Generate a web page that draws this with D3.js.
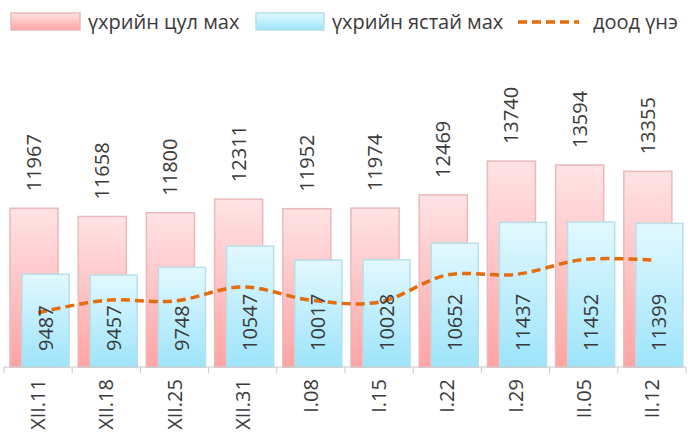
<!DOCTYPE html>
<html>
<head>
<meta charset="utf-8">
<script src="https://cdn.jsdelivr.net/npm/d3@7"></script>
<style>
  body { margin: 0; background: #fff; }
  svg { display: block; font-family: 'Open Sans', sans-serif; }
</style>
</head>
<body>
<svg id="chart" width="688" height="436"></svg>
<script>
/* data */
const dates = ['XII.11', 'XII.18', 'XII.25', 'XII.31', 'I.08', 'I.15', 'I.22', 'I.29', 'II.05', 'II.12']
const boneless = [11967, 11658, 11800, 12311, 11952, 11974, 12469, 13740, 13594, 13355]
const boneIn = [9487, 9457, 9748, 10547, 10017, 10028, 10652, 11437, 11452, 11399]
const minPrice = [8040, 8510, 8480, 9010, 8510, 8440, 9460, 9480, 10040, 10020]
const seriesNames = ['үхрийн цул мах', 'үхрийн ястай мах', 'доод үнэ']

const fs = 20
const txtCol = '#3a3a3a'
const svg = d3.select('#chart')
const defs = svg.append('defs')

/* gradients for bar fills */
function addGrad(id, top, bottom) {
  const g = defs.append('linearGradient').attr('id', id)
    .attr('x1', 0).attr('y1', 0).attr('x2', 0).attr('y2', 1)
  g.append('stop').attr('offset', '0%').attr('stop-color', top)
  g.append('stop').attr('offset', '100%').attr('stop-color', bottom)
}
addGrad('gPink', '#ffe3e5', '#ffa3a3')
addGrad('gBlue', '#e2f8ff', '#9de4fa')

const x = d3.scaleBand().domain(dates).range([4, 686]).padding(0)
const y = d3.scaleLinear().domain([6000, 16000]).range([367, 101])
const bw = x.bandwidth()

/* pink bars (behind) */
svg.append('g').selectAll('rect')
  .data(boneless)
  .join('rect')
  .attr('x', (d, i) => x(dates[i]) + bw * 0.088)
  .attr('y', d => y(d))
  .attr('width', bw * 0.705)
  .attr('height', d => y(6000) - y(d))
  .attr('fill', 'url(#gPink)')
  .attr('stroke', '#e9b9b9')
  .attr('stroke-width', 1.5)

/* blue bars (front) */
svg.append('g').selectAll('rect')
  .data(boneIn)
  .join('rect')
  .attr('x', (d, i) => x(dates[i]) + bw * 0.264)
  .attr('y', d => y(d))
  .attr('width', bw * 0.69)
  .attr('height', d => y(6000) - y(d))
  .attr('fill', 'url(#gBlue)')
  .attr('stroke', '#b5dfe9')
  .attr('stroke-width', 1.5)

/* x-axis */
const xAxis = svg.append('g').attr('transform', 'translate(0,367)')
xAxis.append('line').attr('x1', 4).attr('x2', 686).attr('stroke', '#c8c8c8').attr('stroke-width', 1)
xAxis.selectAll('.tk')
  .data(dates.concat(['end']))
  .join('line')
  .attr('x1', (d, i) => 4 + i * bw).attr('x2', (d, i) => 4 + i * bw)
  .attr('y1', 0).attr('y2', 6)
  .attr('stroke', '#c8c8c8')
xAxis.selectAll('text')
  .data(dates)
  .join('text')
  .attr('transform', d => `translate(${x(d) + bw / 2},12) rotate(-90)`)
  .attr('text-anchor', 'end')
  .attr('dy', '0.35em')
  .attr('font-size', fs)
  .attr('fill', txtCol)
  .text(d => d)

/* smoothed dashed line */
const line = d3.line()
  .x((d, i) => x(dates[i]) + bw / 2)
  .y(d => y(d))
  .curve(d3.curveCatmullRom.alpha(0.5))
svg.append('path')
  .datum(minPrice)
  .attr('d', line)
  .attr('fill', 'none')
  .attr('stroke', '#e46c0a')
  .attr('stroke-width', 3.5)
  .attr('stroke-dasharray', '9,5')

/* labels above pink bars */
svg.append('g').selectAll('text')
  .data(boneless)
  .join('text')
  .attr('transform', (d, i) => `translate(${x(dates[i]) + bw * 0.088 + bw * 0.705 / 2},${y(d) - 17}) rotate(-90)`)
  .attr('dy', '0.35em')
  .attr('font-size', fs)
  .attr('fill', txtCol)
  .text(d => d)

/* labels inside blue bars */
svg.append('g').selectAll('text')
  .data(boneIn)
  .join('text')
  .attr('transform', (d, i) => `translate(${x(dates[i]) + bw * 0.264 + bw * 0.69 / 2},351) rotate(-90)`)
  .attr('dy', '0.35em')
  .attr('font-size', fs)
  .attr('fill', txtCol)
  .text(d => d)

/* legend */
const lg = svg.append('g')
lg.append('rect').attr('x', 11).attr('y', 13).attr('width', 69).attr('height', 17)
  .attr('fill', 'url(#gPink)').attr('stroke', '#e9b9b9').attr('stroke-width', 1.5)
lg.append('text').attr('x', 88).attr('y', 22).attr('dy', '0.35em').attr('font-size', fs).attr('fill', txtCol).text(seriesNames[0])
lg.append('rect').attr('x', 256).attr('y', 13).attr('width', 68).attr('height', 17)
  .attr('fill', 'url(#gBlue)').attr('stroke', '#b5dfe9').attr('stroke-width', 1.5)
lg.append('text').attr('x', 332).attr('y', 22).attr('dy', '0.35em').attr('font-size', fs).attr('fill', txtCol).text(seriesNames[1])
lg.append('line').attr('x1', 518).attr('x2', 579).attr('y1', 22).attr('y2', 22)
  .attr('stroke', '#e46c0a').attr('stroke-width', 3.5).attr('stroke-dasharray', '9,5')
lg.append('text').attr('x', 593).attr('y', 22).attr('dy', '0.35em').attr('font-size', fs).attr('fill', txtCol).text(seriesNames[2])
</script>
</body>
</html>
